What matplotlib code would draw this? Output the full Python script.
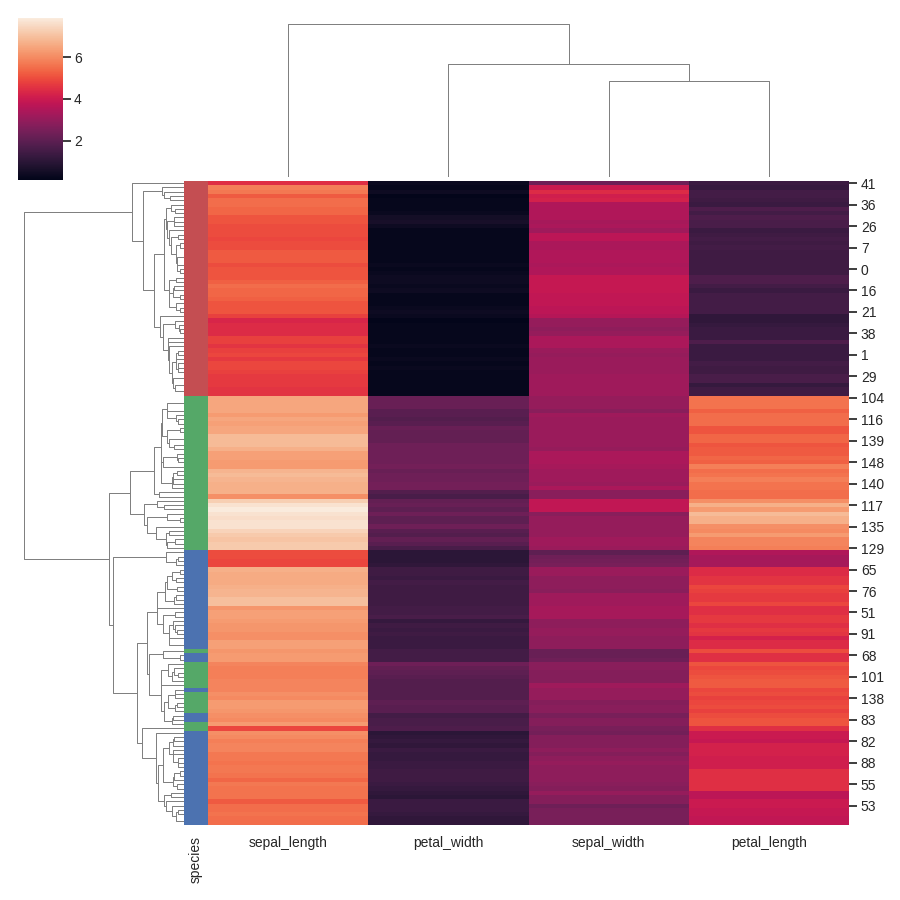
import numpy as np
import matplotlib
matplotlib.use('Agg')
import matplotlib.pyplot as plt
import seaborn as sns
from matplotlib.collections import LineCollection
from matplotlib.colors import ListedColormap

sns.set_theme(style='ticks')
plt.rcParams['font.family'] = ['Liberation Sans', 'DejaVu Sans']

columns = ['sepal_length', 'petal_width', 'sepal_width', 'petal_length']

sepal_length = [4.5, 5.8, 5.7, 5.2, 5.5, 5.5, 5.4, 5.4, 5.1, 5.1,
                5.0, 5.0, 5.0, 4.9, 5.0, 5.0, 5.2, 5.2, 5.2, 5.0,
                5.1, 5.1, 5.1, 5.3, 5.5, 5.4, 5.4, 5.3, 5.1, 5.1,
                5.1, 4.8, 4.3, 4.4, 4.4, 4.4, 4.8, 4.8, 4.6, 4.8,
                4.9, 4.7, 4.9, 4.9, 4.8, 4.7, 4.7, 4.7, 4.6, 4.6,
                6.5, 6.5, 6.5, 6.5, 6.3, 6.5, 6.4, 6.5, 6.5, 6.9,
                6.9, 6.9, 6.7, 6.4, 6.4, 6.3, 6.3, 6.8, 6.9, 6.8,
                6.7, 6.7, 6.7, 6.1, 7.3, 7.7, 7.9, 7.7, 7.6, 7.7,
                7.7, 7.4, 7.2, 7.1, 7.2, 7.2, 5.0, 5.0, 4.9, 4.9,
                6.7, 6.6, 6.6, 6.6, 6.7, 6.8, 6.8, 7.0, 7.0, 6.2,
                6.4, 6.4, 6.3, 6.2, 6.2, 6.1, 6.1, 6.4, 6.4, 6.2,
                6.3, 6.3, 5.9, 5.8, 5.8, 5.8, 5.9, 5.9, 5.9, 6.1,
                6.0, 6.3, 6.3, 6.2, 6.1, 6.0, 6.3, 4.9, 6.1, 6.0,
                5.8, 5.9, 5.9, 5.7, 5.7, 5.6, 5.7, 5.7, 5.6, 5.4,
                5.7, 5.6, 5.6, 5.6, 5.2, 5.5, 5.5, 5.6, 5.5, 5.5]

petal_width = [0.3, 0.2, 0.4, 0.1, 0.2, 0.2, 0.2, 0.3, 0.5, 0.6,
               0.4, 0.2, 0.2, 0.2, 0.2, 0.2, 0.2, 0.2, 0.2, 0.3,
               0.2, 0.3, 0.4, 0.4, 0.3, 0.4, 0.2, 0.2, 0.2, 0.3,
               0.4, 0.3, 0.1, 0.2, 0.2, 0.2, 0.2, 0.2, 0.3, 0.2,
               0.2, 0.3, 0.2, 0.3, 0.2, 0.2, 0.2, 0.2, 0.2, 0.2,
               2.2, 2.2, 2.2, 1.9, 1.9, 1.8, 1.9, 2.2, 2.1, 2.1,
               2.1, 2.3, 2.3, 2.3, 2.3, 2.3, 2.4, 2.2, 2.3, 2.3,
               2.4, 2.4, 1.8, 1.6, 2.1, 2.2, 2.0, 2.3, 2.0, 2.0,
               2.3, 1.9, 1.8, 2.1, 1.9, 1.6, 1.0, 1.0, 1.0, 1.1,
               1.4, 1.4, 1.3, 1.5, 1.4, 1.4, 1.4, 1.4, 1.4, 1.5,
               1.5, 1.6, 1.2, 1.4, 1.3, 1.4, 1.3, 1.3, 1.3, 1.5,
               1.5, 1.5, 2.3, 2.1, 2.0, 1.9, 1.8, 1.8, 1.8, 1.8,
               1.8, 2.0, 1.9, 1.9, 1.5, 1.6, 1.6, 1.7, 1.0, 1.1,
               1.2, 1.1, 1.3, 1.2, 1.2, 1.3, 1.3, 1.4, 1.4, 1.4,
               1.3, 1.2, 1.1, 1.0, 1.3, 1.3, 1.3, 1.2, 1.1, 1.1]

sepal_width = [2.3, 4.0, 4.4, 4.1, 4.2, 3.5, 3.5, 3.5, 3.5, 3.3,
               3.4, 3.2, 3.7, 3.7, 3.4, 3.4, 3.5, 3.5, 3.5, 3.4,
               3.5, 3.5, 3.9, 3.9, 3.9, 3.9, 3.8, 3.8, 3.8, 3.7,
               3.7, 3.6, 3.0, 3.0, 2.9, 3.0, 3.4, 3.4, 3.4, 3.1,
               3.0, 3.1, 3.1, 3.1, 3.1, 3.2, 3.2, 3.2, 3.2, 3.2,
               3.0, 3.0, 3.0, 2.8, 3.2, 3.1, 3.1, 3.1, 3.1, 3.1,
               3.1, 3.1, 3.0, 3.4, 3.4, 3.4, 3.3, 3.2, 3.2, 3.2,
               3.1, 3.4, 2.8, 2.8, 3.8, 3.8, 3.8, 2.8, 3.0, 3.0,
               3.0, 3.0, 3.0, 3.2, 3.2, 3.1, 2.0, 2.3, 2.4, 2.5,
               3.1, 3.1, 2.9, 2.9, 2.9, 2.8, 3.2, 3.2, 3.2, 3.3,
               3.3, 3.3, 2.9, 2.9, 3.0, 3.0, 2.9, 2.9, 2.9, 2.2,
               2.2, 2.3, 2.8, 2.8, 2.7, 2.7, 2.7, 3.2, 3.0, 3.0,
               3.0, 2.7, 2.8, 2.8, 2.5, 2.7, 2.7, 2.5, 2.4, 2.7,
               2.7, 2.7, 2.9, 2.7, 2.9, 3.0, 2.9, 2.9, 2.9, 2.9,
               2.8, 2.7, 3.0, 2.7, 2.7, 2.3, 2.5, 2.5, 2.5, 2.5]

petal_length = [1.3, 1.2, 1.5, 1.5, 1.4, 1.3, 1.7, 1.5, 1.7, 1.6,
                1.6, 1.3, 1.4, 1.5, 1.4, 1.5, 1.4, 1.4, 1.4, 1.4,
                1.4, 1.4, 1.7, 1.7, 1.5, 1.3, 1.5, 1.5, 1.5, 1.5,
                1.5, 1.1, 1.1, 1.2, 1.3, 1.3, 1.3, 1.7, 1.3, 1.3,
                1.3, 1.3, 1.5, 1.4, 1.4, 1.6, 1.6, 1.2, 1.4, 1.4,
                5.6, 5.6, 5.6, 5.3, 5.5, 5.5, 5.5, 5.1, 5.1, 5.4,
                5.4, 5.1, 5.2, 5.2, 5.4, 5.3, 5.8, 5.5, 5.6, 5.8,
                5.6, 5.6, 5.5, 5.5, 6.1, 6.7, 6.3, 6.9, 6.7, 6.7,
                6.1, 6.0, 6.3, 5.9, 5.9, 5.8, 3.5, 3.3, 3.3, 3.3,
                4.4, 4.4, 4.6, 4.6, 4.9, 4.8, 4.7, 4.7, 4.9, 4.5,
                4.5, 4.7, 4.7, 4.5, 4.7, 4.6, 4.2, 4.4, 4.4, 5.0,
                4.5, 4.5, 5.1, 4.9, 5.0, 5.1, 5.2, 5.2, 4.9, 5.0,
                4.8, 4.9, 5.0, 4.8, 5.0, 5.1, 5.1, 4.5, 4.0, 4.0,
                3.9, 4.2, 4.2, 4.2, 4.1, 4.1, 4.1, 4.5, 4.5, 4.5,
                4.5, 4.5, 3.7, 3.7, 4.0, 4.0, 3.9, 3.9, 3.8, 3.8]

species = (['setosa'] * 50 + ['virginica'] * 36 + ['versicolor'] * 23
           + ['virginica'] + ['versicolor'] * 2 + ['virginica'] * 6
           + ['versicolor'] + ['virginica'] * 5 + ['versicolor'] * 2
           + ['virginica'] * 2 + ['versicolor'] * 22)
species_names = ['setosa', 'versicolor', 'virginica']
species_colors = ['#c44e52', '#4c72b0', '#55a868']

row_labels = [41, 36, 26, 7, 0, 16, 21, 38, 1, 29,
              104, 116, 139, 148, 140, 117, 135, 129,
              65, 76, 51, 91, 68, 101, 138, 83, 82, 88, 55, 53]

# rows where the big branches of the left tree part, top branches first
row_splits = [50, 86, 1, 5, 31, 22, 32, 36, 74, 72, 63, 77, 75, 80,
              90, 127, 128, 109, 112, 118, 100, 129, 142]


def mergeOrdered(points, lo, hi, dist, segments):
    # average linkage, only neighbours may merge so the leaf order stays as drawn
    clusters = [[i] for i in range(lo, hi)]
    pos = [i + 0.5 for i in range(lo, hi)]
    hgt = [0.0] * (hi - lo)
    while len(clusters) > 1:
        gaps = [dist[np.ix_(clusters[i], clusters[i + 1])].mean() for i in range(len(clusters) - 1)]
        i = int(np.argmin(gaps))
        h = max(gaps[i], hgt[i], hgt[i + 1])
        segments.append([(pos[i], hgt[i]), (pos[i], h), (pos[i + 1], h), (pos[i + 1], hgt[i + 1])])
        clusters[i] = clusters[i] + clusters[i + 1]
        pos[i] = (pos[i] + pos[i + 1]) / 2.0
        hgt[i] = h
        del clusters[i + 1], pos[i + 1], hgt[i + 1]
    return pos[0], hgt[0]


def buildTree(points, lo, hi, splits, dist, segments):
    for split in splits:
        if lo < split < hi:
            p1, h1 = buildTree(points, lo, split, splits, dist, segments)
            p2, h2 = buildTree(points, split, hi, splits, dist, segments)
            h = max(dist[lo:split, split:hi].mean(), h1, h2)
            segments.append([(p1, h1), (p1, h), (p2, h), (p2, h2)])
            return (p1 + p2) / 2.0, h
    return mergeOrdered(points, lo, hi, dist, segments)


def dendroSegments(points, splits):
    dist = np.sqrt(((points[:, None, :] - points[None, :, :]) ** 2).sum(axis=2))
    segments = []
    pos, top = buildTree(points, 0, len(points), splits, dist, segments)
    return segments, top


data = np.array([sepal_length, petal_width, sepal_width, petal_length]).T
nRows, nCols = data.shape
cmap = sns.color_palette('rocket', as_cmap=True)

fig = plt.figure(figsize=(9, 9), dpi=100)


def addAxes(left, top, right, bottom):
    return fig.add_axes([left / 900.0, 1 - bottom / 900.0, (right - left) / 900.0, (bottom - top) / 900.0])


axHeat = addAxes(208, 181, 849, 825)
axColors = addAxes(183.5, 181, 208, 825)
axRowDendro = addAxes(16, 181, 183.5, 825)
axColDendro = addAxes(208, 16, 849, 177)
axCbar = addAxes(18, 18, 63, 180)

mesh = axHeat.pcolormesh(np.arange(nCols + 1), np.arange(nRows + 1), data, cmap=cmap, vmin=0.1, vmax=7.9)
axHeat.set_xlim(0, nCols)
axHeat.set_ylim(nRows, 0)
axHeat.set_xticks(np.arange(nCols) + 0.5)
axHeat.set_xticklabels(columns, fontsize=10)
axHeat.tick_params(axis='x', length=0, pad=8)
axHeat.yaxis.tick_right()
axHeat.set_yticks(np.arange(0, nRows, 5) + 0.5)
axHeat.set_yticklabels(row_labels, fontsize=10)
axHeat.tick_params(axis='y', length=6, pad=2.5)
for side in axHeat.spines.values():
    side.set_visible(False)

codes = np.array([[species_names.index(s)] for s in species])
axColors.pcolormesh(np.arange(2), np.arange(nRows + 1), codes, cmap=ListedColormap(species_colors), vmin=0, vmax=2)
axColors.set_ylim(nRows, 0)
axColors.set_yticks([])
axColors.set_xticks([0.5])
axColors.set_xticklabels(['species'], rotation=90, fontsize=10)
axColors.tick_params(axis='x', length=0, pad=8)
for side in axColors.spines.values():
    side.set_visible(False)

rowSegs, rowTop = dendroSegments(data, row_splits)
axRowDendro.add_collection(LineCollection([[(h, p) for p, h in s] for s in rowSegs], linewidths=.72, colors='#808080'))
axRowDendro.set_xlim(rowTop * 1.05, 0)
axRowDendro.set_ylim(nRows, 0)
axRowDendro.axis('off')

colSegs, colTop = dendroSegments(data.T, [])
axColDendro.add_collection(LineCollection(colSegs, linewidths=.72, colors='#808080'))
axColDendro.set_xlim(0, nCols)
axColDendro.set_ylim(0, colTop * 1.05)
axColDendro.axis('off')

cbar = fig.colorbar(mesh, cax=axCbar)
cbar.set_ticks([2, 4, 6])
cbar.ax.tick_params(labelsize=10, length=6, pad=2)
cbar.outline.set_visible(False)

fig.savefig('out.png', dpi=100)
